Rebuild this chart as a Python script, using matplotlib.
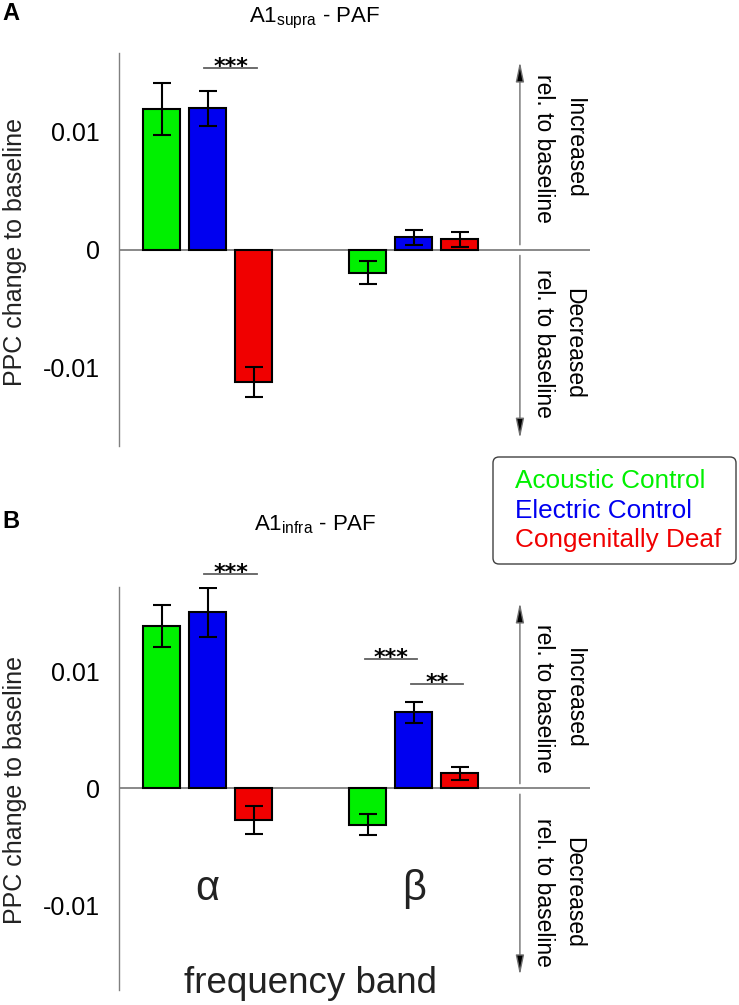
import numpy as np
import matplotlib.pyplot as plt
from matplotlib.patches import FancyBboxPatch

plt.rcParams['font.family'] = ['Liberation Sans', 'DejaVu Sans']
plt.rcParams['mathtext.fontset'] = 'custom'
plt.rcParams['mathtext.rm'] = 'Liberation Sans'
plt.rcParams['mathtext.it'] = 'Liberation Sans:italic'

# groups and bands
groups = ['Acoustic Control', 'Electric Control', 'Congenitally Deaf']
colors = ['#00f000', '#0000f0', '#f00000']
bands = ['α', 'β']

# PPC change to baseline, rows = groups, cols = bands (alpha, beta)
supra_mean = [[0.0119, -0.00195], [0.01195, 0.00102], [-0.01124, 0.00085]]
supra_err = [[0.0022, 0.0010], [0.0015, 0.0006], [0.0013, 0.0006]]
infra_mean = [[0.0139, -0.00312], [0.0151, 0.00651], [-0.00272, 0.00128]]
infra_err = [[0.0018, 0.0009], [0.0021, 0.0009], [0.0012, 0.00055]]

# significance: (band, group i, group j, stars, height)
supra_sig = [(0, 1, 2, '***', 0.0154)]
infra_sig = [(0, 1, 2, '***', 0.0184), (1, 0, 1, '***', 0.0111), (1, 1, 2, '**', 0.0089)]

W, H = 739, 1005
fig = plt.figure(figsize=(W / 100, H / 100), dpi=100)


def fx(px):
    return px / W


def fy(py):
    return 1 - py / H


band_pos = np.array([1.0, 2.0])
offsets = (np.arange(3) - 1) * 0.223

panels = [
    dict(box=(119, 53, 590, 446), ylim=0.01665, mean=supra_mean, err=supra_err, sig=supra_sig,
         sub='supra', letter='A', title_y=22, ylab_y=252, inc_y=0.0086, dec_y=-0.0080),
    dict(box=(119, 586.7, 590, 990), ylim=0.01728, mean=infra_mean, err=infra_err, sig=infra_sig,
         sub='infra', letter='B', title_y=530, ylab_y=790, inc_y=0.0077, dec_y=-0.0089),
]

for k, p in enumerate(panels):
    x0, y0, x1, y1 = p['box']
    ax = fig.add_axes([fx(x0), fy(y1), (x1 - x0) / W, (y1 - y0) / H])
    for g in range(3):
        ax.bar(band_pos + offsets[g], p['mean'][g], width=0.18, color=colors[g],
               edgecolor='black', linewidth=1.5, zorder=3)
        ax.errorbar(band_pos + offsets[g], p['mean'][g], yerr=p['err'][g], fmt='none',
                    ecolor='black', elinewidth=1.5, capsize=6.5, capthick=1.5, zorder=4)
    ax.axhline(0, color='#808080', lw=1.3, zorder=2)
    ax.set_xlim(0.57, 2.855)
    ax.set_ylim(-p['ylim'], p['ylim'])
    ax.set_xticks([])
    ax.set_yticks([-0.01, 0, 0.01])
    ax.set_yticklabels(['-0.01', '0', '0.01'])
    ax.tick_params(axis='y', length=0, pad=14, labelsize=18)
    for s in ['top', 'right', 'bottom']:
        ax.spines[s].set_visible(False)
    ax.spines['left'].set_color('#808080')
    ax.spines['left'].set_linewidth(1.0)

    # significance bars
    for b, i, j, stars, h in p['sig']:
        xc = band_pos[b] + (offsets[i] + offsets[j]) / 2
        ax.plot([xc - 0.127, xc + 0.127], [h, h], color='#606060', lw=1.3, clip_on=False)
        ax.annotate(stars, xy=(xc, h), xytext=(0, -3.6), textcoords='offset points',
                    ha='center', va='baseline', fontsize=16, fontweight='bold',
                    family='DejaVu Sans', annotation_clip=False)

    # direction arrows
    arrow = dict(arrowstyle='-|>,head_length=1.2,head_width=0.25', mutation_scale=10,
                 edgecolor='#707070', facecolor='black', lw=1.0, shrinkA=0, shrinkB=0)
    ax.annotate('', xy=(2.515, 0.0159), xytext=(2.515, 0.0004), arrowprops=arrow)
    ax.annotate('', xy=(2.515, -0.0160), xytext=(2.515, -0.0005), arrowprops=arrow)
    ax.text(2.704, p['inc_y'], 'Increased\nrel. to baseline', rotation=-90, ha='center',
            va='center', fontsize=16.5, linespacing=1.4)
    ax.text(2.704, p['dec_y'], 'Decreased\nrel. to baseline', rotation=-90, ha='center',
            va='center', fontsize=16.5, linespacing=1.4)

    if k == 1:
        for bp, name in zip(band_pos, bands):
            ax.text(bp, -0.00957, name, ha='center', va='baseline', fontsize=30, color='#222222')

    fig.text(fx(315), fy(p['title_y']), r'A1$_{\mathrm{%s}}$ - PAF' % p['sub'],
             ha='center', va='baseline', fontsize=16)
    fig.text(fx(2), fy(p['title_y'] - 2), p['letter'], ha='left', va='baseline',
             fontsize=17, fontweight='bold')
    fig.text(fx(15), fy(p['ylab_y']), 'PPC change to baseline', rotation=90,
             ha='center', va='center', fontsize=18, color='#222222')

fig.text(fx(310.5), fy(993), 'frequency band', ha='center', va='baseline',
         fontsize=26.5, color='#222222')

# legend box
over = fig.add_axes([0, 0, 1, 1], zorder=-1)
over.set_xlim(0, W)
over.set_ylim(H, 0)
over.axis('off')
over.add_patch(FancyBboxPatch((493, 457), 243, 107, boxstyle='round,pad=0,rounding_size=6',
                              facecolor='white', edgecolor='#404040', lw=1.0))
for g, base in enumerate([488, 517.5, 547]):
    fig.text(fx(515), fy(base), groups[g], color=colors[g], ha='left', va='baseline',
             fontsize=18.8)

fig.savefig('out.png', dpi=100)
